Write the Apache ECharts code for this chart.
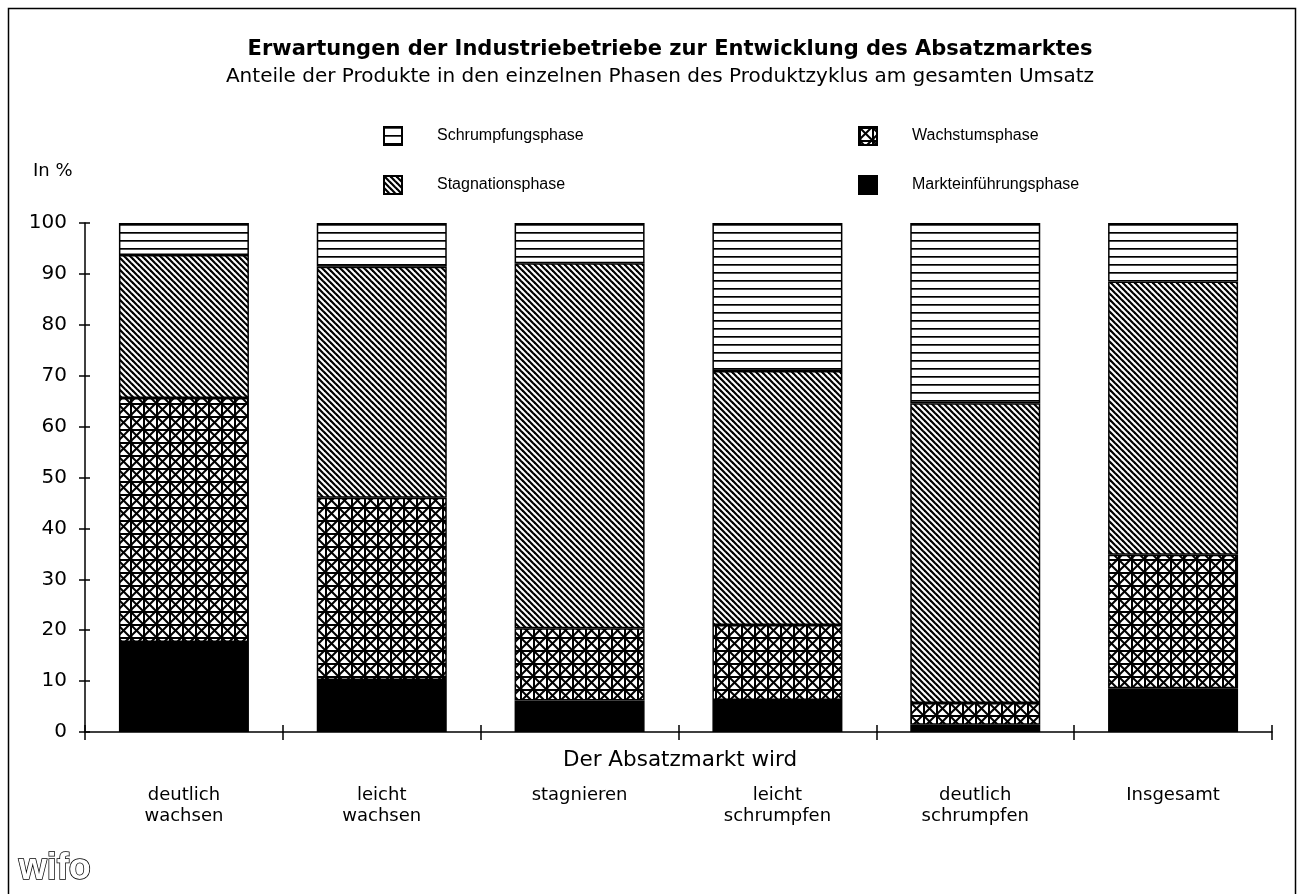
<!DOCTYPE html>
<html>
<head>
<meta charset="utf-8">
<script src="https://cdn.jsdelivr.net/npm/echarts@6/dist/echarts.min.js"></script>
<style>
html,body{margin:0;padding:0;background:#fff;}
#chart{width:1304px;height:894px;}
</style>
</head>
<body>
<div id="chart"></div>
<script>
// ---- data ----
const categories = ['deutlich\nwachsen', 'leicht\nwachsen', 'stagnieren', 'leicht\nschrumpfen', 'deutlich\nschrumpfen', 'Insgesamt'];
const seriesNames = ['Markteinführungsphase', 'Wachstumsphase', 'Stagnationsphase', 'Schrumpfungsphase'];
const markteinfuehrung = [17.7, 10.2, 6.2, 6.3, 1.4, 8.6];
const wachstum = [47.9, 35.8, 14.2, 14.7, 4.3, 26.2];
const stagnation = [28.1, 45.4, 71.7, 49.9, 58.9, 53.7];
const schrumpfung = [6.3, 8.6, 7.9, 29.1, 35.4, 11.5];
const yTicks = [0, 10, 20, 30, 40, 50, 60, 70, 80, 90, 100];

// ---- patterns ----
function mk(w, h, draw) {
  const c = document.createElement('canvas');
  c.width = w; c.height = h;
  const g = c.getContext('2d');
  g.fillStyle = '#fff'; g.fillRect(0, 0, w, h);
  g.strokeStyle = '#000';
  draw(g, w, h);
  return { image: c, repeat: 'repeat' };
}
const patHoriz = mk(8, 8, (g) => { g.fillStyle = '#000'; g.fillRect(0, 0, 8, 1.7); });
const patDiag = mk(6, 6, (g) => {
  g.lineWidth = 2.2;
  for (const k of [-6, 0, 6]) { g.beginPath(); g.moveTo(-1, k - 1); g.lineTo(7, k + 7); g.stroke(); }
});
const patCross = mk(13, 13, (g) => {
  g.fillStyle = '#000';
  g.fillRect(0, 0, 13, 2);
  g.fillRect(0, 0, 2, 13);
  g.lineWidth = 2;
  g.beginPath(); g.moveTo(1, 1); g.lineTo(13, 13); g.stroke();
  g.beginPath(); g.moveTo(1, 12); g.lineTo(13, 0); g.stroke();
  g.beginPath(); g.moveTo(-1, -1); g.lineTo(1, 1); g.stroke();
  g.beginPath(); g.moveTo(0, 14); g.lineTo(2, 12); g.stroke();
});
const fills = ['#000', patCross, patDiag, patHoriz];
const values = [markteinfuehrung, wachstum, stagnation, schrumpfung];

const font = '"Liberation Sans", Arial, sans-serif';
const wide = '"DejaVu Sans", "Liberation Sans", sans-serif';
const chart = echarts.init(document.getElementById('chart'), null, { renderer: 'canvas' });

const option = {
  backgroundColor: '#fff',
  animation: false,
  textStyle: { fontFamily: font, color: '#000' },
  title: [
    { text: 'Erwartungen der Industriebetriebe zur Entwicklung des Absatzmarktes', left: 665, top: 34, textAlign: 'center',
      textStyle: { fontFamily: wide, fontSize: 21, fontWeight: 'bold', color: '#000' } },
    { text: 'Anteile der Produkte in den einzelnen Phasen des Produktzyklus am gesamten Umsatz', left: 655, top: 62, textAlign: 'center',
      textStyle: { fontFamily: wide, fontSize: 20, fontWeight: 'normal', color: '#000' } }
  ],
  legend: [
    { data: ['Schrumpfungsphase', 'Stagnationsphase'], orient: 'vertical', left: 383, top: 126, padding: 0,
      itemWidth: 18, itemHeight: 18, itemGap: 29, icon: 'rect', selectedMode: false,
      textStyle: { fontFamily: font, fontSize: 16, color: '#000', padding: [0, 0, 0, 30] } },
    { data: ['Wachstumsphase', 'Markteinführungsphase'], orient: 'vertical', left: 858, top: 126, padding: 0,
      itemWidth: 18, itemHeight: 18, itemGap: 29, icon: 'rect', selectedMode: false,
      textStyle: { fontFamily: font, fontSize: 16, color: '#000', padding: [0, 0, 0, 30] } }
  ],
  grid: { left: 85, right: 32, top: 223, bottom: 162, containLabel: false },
  xAxis: [
    { type: 'category', data: categories, boundaryGap: true,
      axisLine: { show: true, lineStyle: { color: '#000', width: 1.5 } },
      axisTick: { show: true, length: 8, lineStyle: { color: '#000', width: 1.5 } },
      axisLabel: { interval: 0, margin: 53, fontSize: 18, color: '#000', fontFamily: wide, lineHeight: 21, verticalAlign: 'top' } },
    { type: 'category', data: categories, boundaryGap: true, position: 'bottom',
      axisLine: { show: false }, axisLabel: { show: false },
      axisTick: { show: true, inside: true, length: 7, lineStyle: { color: '#000', width: 1.5 } } }
  ],
  yAxis: [
    { type: 'value', min: 0, max: 100, interval: 10,
      axisLine: { show: true, lineStyle: { color: '#000', width: 1.5 } },
      axisTick: { show: true, length: 6, lineStyle: { color: '#000', width: 1.5 } },
      axisLabel: { margin: 18, fontSize: 20, color: '#000', fontFamily: wide,
        formatter: (v) => yTicks.includes(v) ? String(v) : '' },
      splitLine: { show: false } },
    { type: 'value', min: 0, max: 100, interval: 10, position: 'left',
      axisLine: { show: false }, axisLabel: { show: false }, splitLine: { show: false },
      axisTick: { show: true, inside: true, length: 5, lineStyle: { color: '#000', width: 1.5 } } }
  ],
  series: seriesNames.map((name, i) => ({
    name, type: 'bar', stack: 'total', barWidth: 130,
    xAxisIndex: 0, yAxisIndex: 0,
    data: values[i],
    itemStyle: { color: fills[i], borderColor: '#000', borderWidth: 1.5 },
    emphasis: { disabled: true }
  })),
  graphic: [
    { type: 'rect', shape: { x: 8.5, y: 8.5, width: 1287, height: 910 }, style: { fill: 'none', stroke: '#000', lineWidth: 1.5 }, silent: true },
    { type: 'text', left: 33, top: 162, style: { text: 'In %', font: '18px ' + wide, fill: '#000' } },
    { type: 'text', x: 680, y: 760, style: { text: 'Der Absatzmarkt wird', font: '21.5px ' + wide, fill: '#000', align: 'center', verticalAlign: 'middle' } },
    { type: 'text', left: 18, top: 850, style: { text: 'wifo', font: 'bold 36px ' + font, fill: '#fff', stroke: '#000', lineWidth: 1.5 } }
  ]
};
chart.setOption(option);
</script>
</body>
</html>
